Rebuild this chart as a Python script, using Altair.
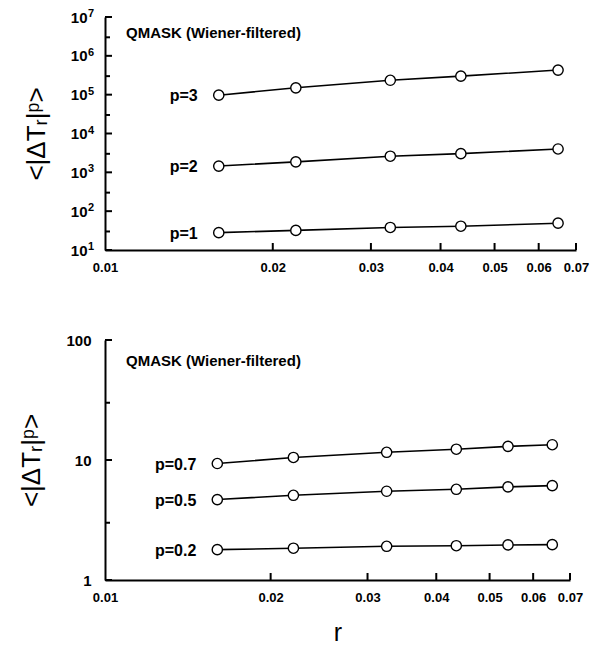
import altair as alt
import pandas as pd

# ---- data ----
r_top = [0.016, 0.022, 0.0325, 0.0435, 0.065]
top_p1 = [28, 32, 38, 41, 49]
top_p2 = [1450, 1860, 2600, 3030, 3990]
top_p3 = [97000, 150000, 235000, 300000, 430000]
top_names = ["p=1", "p=2", "p=3"]

r_bot = [0.016, 0.022, 0.0325, 0.0435, 0.054, 0.065]
bot_p02 = [1.79, 1.84, 1.91, 1.93, 1.96, 1.97]
bot_p05 = [4.68, 5.08, 5.49, 5.70, 5.97, 6.12]
bot_p07 = [9.35, 10.5, 11.6, 12.3, 13.0, 13.4]
bot_names = ["p=0.2", "p=0.5", "p=0.7"]

x_ticks = [0.01, 0.02, 0.03, 0.04, 0.05, 0.06, 0.07]
top_y_major = [10, 100, 1000, 10000, 100000, 1000000, 10000000]
top_y_base = ["10", "10", "10", "10", "10", "10", "10"]
top_y_exp = ["1", "2", "3", "4", "5", "6", "7"]
top_y_minor = [30, 300, 3000, 30000, 300000, 3000000]
bot_y_major = [1, 10, 100]
bot_y_base = ["1", "10", "100"]
bot_y_exp = ["", "", ""]
bot_y_minor = [3, 30]

panel_title = "QMASK (Wiener-filtered)"
y_title = "<|ΔTᵣ|ᵖ>"
x_title = "r"

FONT = "Liberation Sans"


def label_expr(vals, labels):
    expr = "''"
    for v, l in zip(reversed(vals), reversed(labels)):
        expr = f"(abs(datum.value - {v}) < {v}*1e-6) ? '{l}' : ({expr})"
    return expr


def panel(r, series, names, ymajor, ybase, yexp, yminor, ydomain, w, h,
          show_xtitle, lab_pad, title_y):
    rows = []
    for name, vals in zip(names, series):
        for rv, v in zip(r, vals):
            rows.append({"r": rv, "v": v, "s": name})
    df = pd.DataFrame(rows)
    lab = pd.DataFrame({"r": [r[0]] * len(names),
                        "v": [s[0] for s in series],
                        "s": names})

    xscale = alt.Scale(type="log", domain=[0.01, 0.07], nice=False)
    yscale = alt.Scale(type="log", domain=ydomain, nice=False)
    xaxis = alt.Axis(values=x_ticks, format=".2f", ticks=False, grid=False,
                     domainColor="black", domainWidth=2, labelFont=FONT,
                     labelFontWeight="bold", labelFontSize=13, labelColor="black",
                     labelPadding=11, labelFlush=False,
                     title=x_title if show_xtitle else None,
                     titleFont=FONT, titleFontSize=25, titleFontWeight="normal",
                     titlePadding=16, titleColor="black")
    yaxis = alt.Axis(values=ymajor, labelExpr=label_expr(ymajor, ybase),
                     ticks=False, grid=False, domainColor="black", domainWidth=2,
                     labelFont=FONT, labelFontWeight="bold", labelFontSize=15,
                     labelColor="black", labelPadding=lab_pad, labelFlush=False,
                     title=y_title, titleFont=FONT, titleFontSize=26,
                     titleFontWeight="normal", titlePadding=21, titleColor="black")

    X = alt.X("r:Q", scale=xscale, axis=xaxis)
    Y = alt.Y("v:Q", scale=yscale, axis=yaxis)

    lines = alt.Chart(df).mark_line(color="black", strokeWidth=1.6).encode(
        x=X, y=Y, detail="s:N")
    pts = alt.Chart(df).mark_point(shape="circle", filled=True, fill="white",
                                   stroke="black", strokeWidth=1.4, size=105,
                                   opacity=1).encode(x=X, y=Y, detail="s:N")
    labels = alt.Chart(lab).mark_text(align="right", baseline="middle", dx=-21, dy=1,
                                      font=FONT, fontWeight="bold", fontSize=16,
                                      color="black").encode(x=X, y=Y, text="s:N")
    ttl = alt.Chart(pd.DataFrame({"t": [panel_title]})).mark_text(
        align="left", baseline="middle", font=FONT, fontWeight="bold",
        fontSize=15, color="black").encode(x=alt.value(21), y=alt.value(title_y),
                                           text="t:N")

    ymaj = alt.Chart(pd.DataFrame({"v": ymajor})).mark_rule(
        color="black", strokeWidth=2).encode(y=Y, x=alt.value(0), x2=alt.value(7))
    ymin = alt.Chart(pd.DataFrame({"v": yminor})).mark_rule(
        color="black", strokeWidth=2).encode(y=Y, x=alt.value(0), x2=alt.value(5))
    xt = alt.Chart(pd.DataFrame({"r": x_ticks[1:]})).mark_rule(
        color="black", strokeWidth=2).encode(x=X, y=alt.value(h), y2=alt.value(h - 7))
    exps = alt.Chart(pd.DataFrame({"v": ymajor, "e": yexp})).mark_text(
        align="left", baseline="middle", dx=0, dy=-3, font=FONT, fontWeight="bold",
        fontSize=11, color="black").encode(x=alt.value(-lab_pad + 1), y=Y, text="e:N")

    return alt.layer(ymaj, ymin, xt, lines, pts, labels, ttl, exps).properties(
        width=w, height=h)


top = panel(r_top, [top_p1, top_p2, top_p3], top_names, top_y_major, top_y_base,
            top_y_exp, top_y_minor, [10, 1e7], 471, 233, False, 18, 16)
bot = panel(r_bot, [bot_p02, bot_p05, bot_p07], bot_names, bot_y_major, bot_y_base,
            bot_y_exp, bot_y_minor, [1, 100], 465, 240, True, 14, 21)

chart = alt.vconcat(top, bot, spacing=57).properties(
    padding={"left": 10, "top": 0, "right": 5, "bottom": 0},
    background="white",
).configure_view(strokeWidth=0, stroke="transparent")

chart.save("out.html", embed_options={"renderer": "svg", "actions": False})
